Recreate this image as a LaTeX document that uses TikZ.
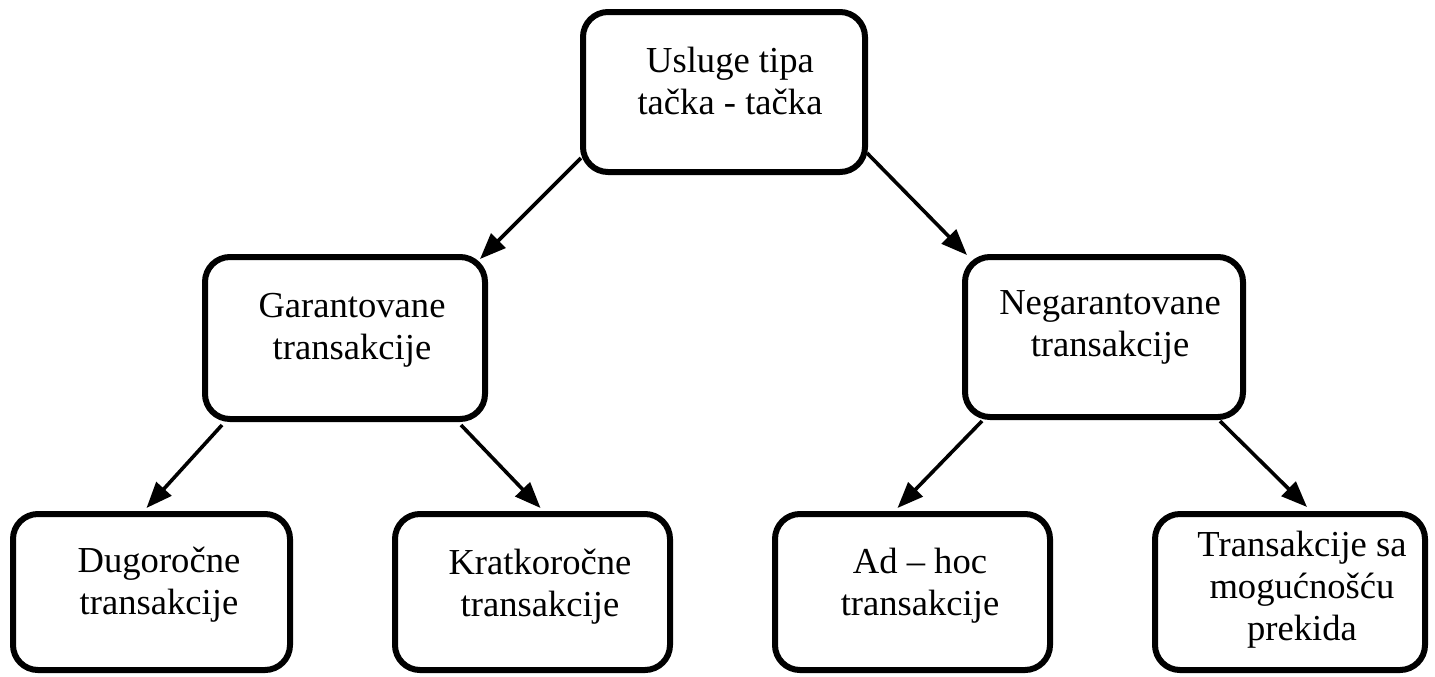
\documentclass[tikz,border=0pt]{standalone}
\usepackage{fontspec}
\setmainfont{Liberation Serif}
\usetikzlibrary{arrows.meta}
\begin{document}
\begin{tikzpicture}[x=0.5pt,y=-0.5pt,
  box/.style={draw, line width=3pt, rounded corners=12.5pt, inner sep=0pt},
  txt/.style={align=center, inner sep=0pt, font=\fontsize{18.3}{21}\selectfont},
  conn/.style={line width=1.8pt, -{Triangle[length=13pt,width=10pt]}}]
\useasboundingbox (0,0) rectangle (1435,676);
% boxes
\node[box, minimum width=141pt, minimum height=80pt] (top) at (724,92) {};
\node[box, minimum width=140pt, minimum height=81pt] (g) at (345,338) {};
\node[box, minimum width=139pt, minimum height=80pt] (n) at (1104,337) {};
\node[box, minimum width=138.5pt, minimum height=78pt] (d) at (151.5,592) {};
\node[box, minimum width=137.5pt, minimum height=78pt] (k) at (532.5,592) {};
\node[box, minimum width=137.5pt, minimum height=78pt] (a) at (912.5,592) {};
\node[box, minimum width=135pt, minimum height=78pt] (t) at (1290,592) {};
% texts
\node[txt] (topt) at (730,81) {Usluge tipa\\tačka - tačka};
\node[txt] (gt) at (352,330) {Garantovane\\transakcije};
\node[txt] (nt) at (1110,327) {Negarantovane\\transakcije};
\node[txt] (dt) at (159,585) {Dugoročne\\transakcije};
\node[txt] (kt) at (540,587) {Kratkoročne\\transakcije};
\node[txt] (at) at (920,585.5) {Ad – hoc\\transakcije};
\node[txt] (tt) at (1302,590) {Transakcije sa\\mogućnošću\\prekida};
% connectors
\draw[conn] ([shift={(1,66)}]top.west) -- ([shift={(-8,5)}]g.north east);
\draw[conn] ([shift={(-1,61)}]top.east) -- ([shift={(5,1)}]n.north west);
\draw[conn] ([shift={(20,3)}]g.south west) -- ([shift={(-5,-3)}]d.north);
\draw[conn] ([shift={(-27,3)}]g.south east) -- ([shift={(8,-3)}]k.north);
\draw[conn] ([shift={(20,1)}]n.south west) -- ([shift={(-15,-3)}]a.north);
\draw[conn] ([shift={(-26,1)}]n.south east) -- ([shift={(17,-4)}]t.north);
\end{tikzpicture}
\end{document}
